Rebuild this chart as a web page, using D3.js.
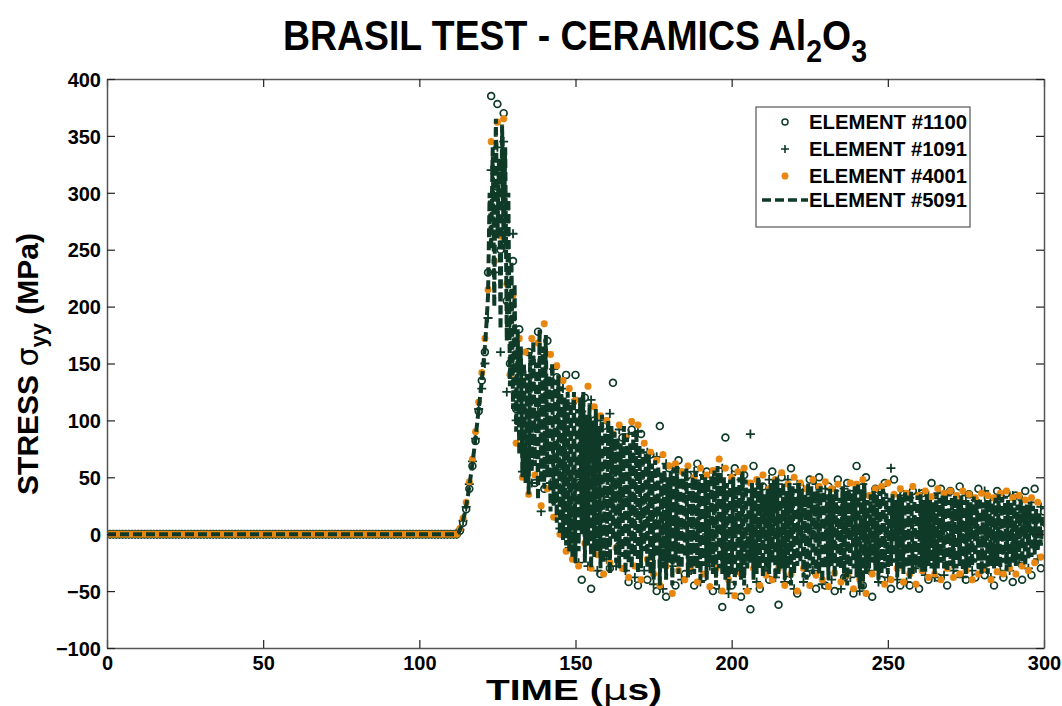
<!DOCTYPE html>
<html>
<head>
<meta charset="utf-8">
<script src="https://cdn.jsdelivr.net/npm/d3@7"></script>
<style>
  body { margin: 0; background: #fff; }
  svg text { font-family: "Liberation Sans", Arial, sans-serif; font-weight: bold; fill: #000; }
</style>
</head>
<body>
<div id="chart"></div>
<script>
// stress before the wave reaches the elements (flat line)
const preArrivalStress = 0;
const preArrivalTime = d3.range(0, 112);
// marker elements: one sample per microsecond from 112 to 300
const waveTime = d3.range(112, 301);
// line element: one sample per half microsecond from 112 to 300
const lineTime = d3.range(112, 300.25, 0.5);

// STRESS sigma_yy (MPa)
const el5091 = [
  0, 1, 4, 7, 12, 18, 25, 33, 42, 52, 62, 73, 85, 97, 110, 122, 135, 150, 165, 185,
  210, 300, 250, 340, 200, 365, 260, 330, 180, 360, 250, 340, 170, 300, 130, 240, 110, 220, 90, 180,
  70, 165, 50, 150, 45, 140, 35, 160, 55, 170, 60, 150, 30, 180, 45, 165, 40, 175, 50, 140,
  20, 150, 25, 135, 10, 140, 0, 130, -5, 120, -10, 125, -15, 115, -20, 125, -25, 110, -15, 120,
  0, 125, -25, 105, -10, 115, -30, 100, -20, 110, -15, 95, -30, 105, -25, 90, -20, 100, -35, 95,
  -5, 90, -25, 85, -30, 80, -20, 95, -35, 85, -25, 80, -30, 90, -20, 92, -35, 78, -30, 75,
  -15, 72, -30, 70, -35, 62, -40, 65, -20, 60, -45, 55, -30, 62, -40, 50, -25, 55, -45, 58,
  -25, 60, -35, 50, -30, 55, -20, 58, -38, 45, -30, 50, -35, 55, -30, 48, -40, 52, -28, 50,
  -40, 48, -25, 52, -35, 56, -45, 60, -30, 55, -35, 50, -40, 45, -50, 48, -35, 50, -45, 42,
  -30, 50, -40, 55, -45, 48, -30, 40, -25, 45, -40, 42, -35, 50, -30, 45, -38, 35, -30, 40,
  -35, 45, -25, 48, -40, 50, -35, 42, -30, 45, -40, 38, -30, 45, -45, 42, -35, 40, -28, 45,
  -25, 40, -38, 35, -40, 45, -30, 42, -35, 38, -32, 40, -35, 42, -42, 38, -30, 35, -40, 40,
  -28, 35, -38, 40, -30, 32, -30, 42, -40, 38, -45, 40, -35, 36, -30, 42, -38, 45, -48, 40,
  -48, 45, -35, 30, -30, 35, -25, 38, -32, 35, -40, 38, -35, 40, -30, 36, -35, 32, -28, 35,
  -25, 30, -38, 35, -30, 32, -35, 38, -30, 34, -40, 38, -35, 30, -28, 34, -30, 35, -33, 30,
  -33, 35, -28, 30, -30, 28, -35, 36, -30, 32, -25, 34, -30, 35, -33, 30, -28, 32, -30, 34,
  -30, 30, -28, 34, -32, 30, -35, 30, -30, 28, -28, 33, -25, 30, -30, 32, -35, 28, -30, 30,
  -35, 30, -28, 28, -30, 32, -28, 35, -30, 32, -25, 28, -32, 30, -30, 28, -25, 30, -28, 26,
  -22, 30, -25, 25, -28, 26, -22, 28, -20, 25, -18, 22, -15, 20, -10, 15, 8
];
const el4001 = [
  0, 5, 14, 28, 46, 66, 90, 116, 142, 172,
  215, 345, 240, 362, 262, 365, 220, 140, 210, 80,
  172, 50, 160, 35, 172, 52, 168, 25, 185, 40,
  158, 15, 148, 0, 135, -15, 128, -22, 118, -28,
  115, -8, 130, -30, 112, -18, 104, -35, 100, -25,
  88, -12, 96, -30, 85, -38, 99, -28, 96, -40,
  80, -22, 72, -35, 65, -45, 70, -28, 60, -52,
  62, -32, 55, -40, 60, -28, 50, -42, 58, -35,
  52, -46, 56, -30, 66, -50, 58, -40, 50, -54,
  55, -35, 58, -50, 45, -30, 48, -45, 52, -36,
  40, -40, 48, -30, 54, -45, 44, -35, 50, -50,
  45, -30, 40, -45, 48, -36, 42, -40, 46, -46,
  40, -34, 44, -42, 35, -36, 45, -48, 44, -40,
  48, -52, 34, -35, 40, -30, 42, -44, 45, -40,
  35, -30, 40, -42, 36, -35, 42, -44, 34, -32,
  38, -38, 33, -35, 40, -40, 36, -30, 38, -38,
  34, -35, 38, -32, 35, -40, 32, -35, 36, -30,
  34, -40, 32, -33, 36, -35, 38, -30, 32, -35,
  34, -28, 30, -32, 32, -25, 28, -20, 12
];
const el1100 = [
  0, 3, 10, 22, 40, 60, 82, 108, 135, 160,
  230, 385, 300, 378, 250, 370, 205, 150, 240, 110,
  180, 110, 55, 160, 100, 45, 178, 110, 40, 170,
  100, 30, 138, 60, 0, 140, 50, -10, 140, 45,
  -40, 120, 50, -48, 100, 40, -35, 95, 30, -30,
  133, 40, -10, 85, 30, -42, 92, 20, -45, 88,
  25, -40, 70, 15, -50, 95, 10, -55, 58, 5,
  -45, 65, 10, -35, 52, 0, -45, 62, 5, -38,
  55, 0, -50, 50, 5, -64, 85, 0, -45, 58,
  5, -55, 52, 0, -66, 60, 5, -48, 42, 0,
  -40, 55, 5, -62, 50, 0, -40, 58, 0, -52,
  42, 5, -35, 48, 0, -48, 50, 3, -45, 42,
  0, -50, 48, 5, -38, 45, 0, -52, 60, 3,
  -45, 50, 0, -55, 40, 5, -40, 45, 0, -48,
  48, 3, -45, 35, 0, -45, 38, 5, -48, 36,
  0, -40, 45, 3, -38, 40, 0, -45, 38, 5,
  -35, 42, 0, -40, 35, 3, -38, 40, 0, -36,
  32, 5, -45, 38, 0, -38, 36, 3, -42, 34,
  0, -40, 38, 5, -36, 40, 0, -30, 20
];
const el1091 = [
  0, 4, 12, 24, 44, 64, 84, 110, 128, 150,
  190, 320, 230, 340, 160, 345, 125, 180, 264, 100,
  120, 55, 140, 90, 45, 150, 100, 20, 160, 80,
  45, 145, 70, 5, 128, 50, -12, 115, 40, -25,
  108, 45, -28, 118, 40, -32, 100, 35, -22, 106,
  30, -28, 92, 25, -32, 88, 20, -38, 90, 15,
  -32, 72, 15, -44, 68, 10, -48, 62, 5, -28,
  58, 5, -40, 48, 0, -32, 55, 5, -42, 52,
  0, -28, 50, 3, -48, 58, 0, -52, 52, 5,
  -32, 48, 0, -48, 88, 3, -42, 44, 0, -32,
  48, 5, -38, 44, 0, -42, 48, 3, -48, 44,
  0, -42, 38, 5, -32, 44, 0, -44, 40, 3,
  -40, 38, 0, -48, 40, 5, -38, 38, 0, -50,
  44, 3, -32, 34, 0, -42, 36, 5, -38, 58,
  0, -40, 34, 3, -42, 32, 0, -30, 36, 5,
  -36, 34, 0, -38, 36, 3, -36, 34, 0, -32,
  30, 5, -38, 34, 0, -32, 30, 3, -30, 38,
  0, -38, 30, 5, -32, 32, 0, -32, 34, 3,
  -25, 30, 0, -30, 28, 3, -22, 24, 10
];

const xTicks = [0, 50, 100, 150, 200, 250, 300];
const yTicks = [-100, -50, 0, 50, 100, 150, 200, 250, 300, 350, 400];
const legendNames = ["ELEMENT #1100", "ELEMENT #1091", "ELEMENT #4001", "ELEMENT #5091"];

const dark = "#0f3a28";
const orange = "#e8870f";

const W = 1062, H = 706;
const margin = { top: 79, right: 18, bottom: 58, left: 107 };
const width = W - margin.left - margin.right;
const height = H - margin.top - margin.bottom;

function toPoints(times, vals) {
  return preArrivalTime.map(t => ({ t: t, v: preArrivalStress }))
    .concat(times.map((t, i) => ({ t: t, v: vals[i] })));
}

const svg = d3.select("#chart").append("svg")
  .attr("width", W).attr("height", H);

const g = svg.append("g")
  .attr("transform", "translate(" + margin.left + "," + margin.top + ")");

const x = d3.scaleLinear().domain([0, 300]).range([0, width]);
const y = d3.scaleLinear().domain([-100, 400]).range([height, 0]);

g.append("clipPath").attr("id", "clip")
  .append("rect").attr("width", width).attr("height", height);

const plot = g.append("g").attr("clip-path", "url(#clip)");

// element 1100 - open circles
plot.append("g").selectAll("circle")
  .data(toPoints(waveTime, el1100)).join("circle")
  .attr("cx", d => x(d.t)).attr("cy", d => y(d.v)).attr("r", 3.4)
  .attr("fill", "none").attr("stroke", dark).attr("stroke-width", 1.7);

// element 1091 - plus
plot.append("g").selectAll("path")
  .data(toPoints(waveTime, el1091)).join("path")
  .attr("transform", d => "translate(" + x(d.t) + "," + y(d.v) + ")")
  .attr("d", "M-4.5,0H4.5M0,-4.5V4.5")
  .attr("stroke", dark).attr("stroke-width", 1.8);

// element 4001 - orange stars
plot.append("g").selectAll("path")
  .data(toPoints(waveTime, el4001)).join("path")
  .attr("transform", d => "translate(" + x(d.t) + "," + y(d.v) + ")")
  .attr("d", "M-3.5,0H3.5M0,-3.5V3.5M-2.6,-2.6L2.6,2.6M-2.6,2.6L2.6,-2.6")
  .attr("stroke", orange).attr("stroke-width", 2.3);

// element 5091 - dashed line
plot.append("path")
  .datum(toPoints(lineTime, el5091))
  .attr("fill", "none")
  .attr("stroke", dark)
  .attr("stroke-width", 4)
  .attr("stroke-dasharray", "9,4")
  .attr("d", d3.line().x(d => x(d.t)).y(d => y(d.v)));

// axes, ticks pointing inward
const axB = g.append("g").attr("transform", "translate(0," + height + ")")
  .call(d3.axisBottom(x).tickValues(xTicks).tickSize(-8).tickSizeOuter(0).tickPadding(8));
const axT = g.append("g")
  .call(d3.axisTop(x).tickValues(xTicks).tickSize(-8).tickSizeOuter(0).tickFormat(""));
const axL = g.append("g")
  .call(d3.axisLeft(y).tickValues(yTicks).tickSize(-8).tickSizeOuter(0).tickPadding(6));
const axR = g.append("g").attr("transform", "translate(" + width + ",0)")
  .call(d3.axisRight(y).tickValues(yTicks).tickSize(-8).tickSizeOuter(0).tickFormat(""));

[axB, axT, axL, axR].forEach(a => {
  a.select(".domain").attr("stroke", "#555").attr("stroke-width", 1.5);
  a.selectAll(".tick line").attr("stroke", "#222").attr("stroke-width", 1.2);
  a.selectAll("text").attr("font-size", 20).attr("fill", "#000")
    .style("font-family", "'Liberation Sans', Arial, sans-serif").style("font-weight", "bold");
});
axL.selectAll("text").attr("dy", "0.36em");

// squeeze/stretch a text to the width seen in the picture
function fitWidth(sel, cx, w) {
  const bw = sel.node().getBBox().width;
  sel.attr("transform", "translate(" + cx + ",0) scale(" + (w / bw) + ",1) translate(" + (-cx) + ",0)");
}

// title
const title = svg.append("text")
  .attr("x", 575).attr("y", 50)
  .attr("text-anchor", "middle")
  .attr("font-size", 42);
title.append("tspan").text("BRASIL TEST - CERAMICS Al");
title.append("tspan").attr("font-size", 32).attr("dy", 12).text("2");
title.append("tspan").attr("dy", -12).text("O");
title.append("tspan").attr("font-size", 32).attr("dy", 12).text("3");
fitWidth(title, 575, 584);

// x label
const xl = svg.append("text")
  .attr("x", 574).attr("y", 700)
  .attr("text-anchor", "middle")
  .attr("font-size", 29);
xl.append("tspan").text("TIME (");
xl.append("tspan").style("font-weight", "normal").attr("font-family", "DejaVu Sans").text("\u03bc");
xl.append("tspan").text("s)");
fitWidth(xl, 574, 176);

// y label
const yl = svg.append("text")
  .attr("transform", "translate(38,364) rotate(-90)")
  .attr("text-anchor", "middle")
  .attr("font-size", 30);
yl.append("tspan").text("STRESS ");
yl.append("tspan").style("font-weight", "normal").attr("font-family", "DejaVu Sans").text("\u03c3");
yl.append("tspan").attr("font-size", 22).attr("dy", 8).text("yy");
yl.append("tspan").attr("dy", -8).text(" (MPa)");

// legend
const lg = svg.append("g").attr("transform", "translate(756,107)");
lg.append("rect").attr("width", 214).attr("height", 120)
  .attr("fill", "#fff").attr("stroke", "#555").attr("stroke-width", 1.2);
const rowY = [15, 42, 69, 93];
legendNames.forEach((name, i) => {
  const row = lg.append("g").attr("transform", "translate(0," + rowY[i] + ")");
  if (i === 0) {
    row.append("circle").attr("cx", 29).attr("r", 3).attr("fill", "none")
      .attr("stroke", dark).attr("stroke-width", 1.5);
  } else if (i === 1) {
    row.append("path").attr("transform", "translate(29,0)")
      .attr("d", "M-4,0H4M0,-4V4").attr("stroke", dark).attr("stroke-width", 1.6);
  } else if (i === 2) {
    row.append("path").attr("transform", "translate(29,0)")
      .attr("d", "M-3.5,0H3.5M0,-3.5V3.5M-2.6,-2.6L2.6,2.6M-2.6,2.6L2.6,-2.6")
      .attr("stroke", orange).attr("stroke-width", 2.2);
  } else {
    row.append("line").attr("x1", 6).attr("x2", 52)
      .attr("stroke", dark).attr("stroke-width", 3.5).attr("stroke-dasharray", "9,4");
  }
  row.append("text").attr("x", 53).attr("dy", "0.36em")
    .attr("font-size", 20).attr("textLength", 158).attr("lengthAdjust", "spacingAndGlyphs")
    .text(name);
});
</script>
</body>
</html>
